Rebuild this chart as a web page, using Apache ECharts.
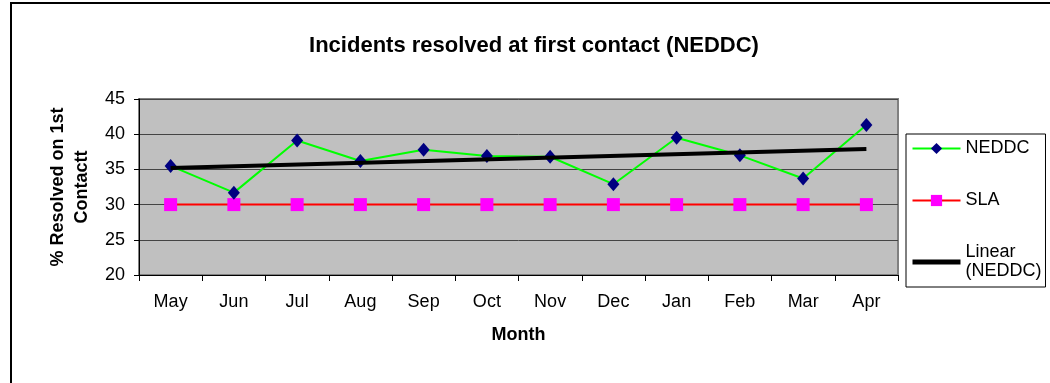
<!DOCTYPE html>
<html>
<head>
<meta charset="utf-8">
<script src="https://cdn.jsdelivr.net/npm/echarts@6/dist/echarts.min.js"></script>
<style>
html,body{margin:0;padding:0;background:#fff;}
#chart{width:1050px;height:383px;}
</style>
</head>
<body>
<div id="chart"></div>
<script>
const months = ['May','Jun','Jul','Aug','Sep','Oct','Nov','Dec','Jan','Feb','Mar','Apr'];
const neddc = [35.5, 31.7, 39.1, 36.2, 37.8, 36.9, 36.8, 32.9, 39.5, 37.0, 33.7, 41.3];
const sla = [30, 30, 30, 30, 30, 30, 30, 30, 30, 30, 30, 30];
const trendStart = 35.2;
const trendEnd = 37.9;
const yTicks = [20, 25, 30, 35, 40, 45];

const trend = months.map((m, i) => i === 0 ? trendStart : (i === months.length - 1 ? trendEnd : null));

const FONT = 'Liberation Sans, Arial, sans-serif';
const chart = echarts.init(document.getElementById('chart'), null, {renderer: 'canvas'});
chart.setOption({
  animation: false,
  backgroundColor: '#fff',
  textStyle: {fontFamily: FONT, color: '#000'},
  graphic: [{
    type: 'rect', shape: {x: 11, y: 3, width: 1100, height: 500},
    style: {fill: 'none', stroke: '#000', lineWidth: 2}, silent: true, z: -1
  }],
  title: {
    text: 'Incidents resolved at first contact (NEDDC)',
    left: 529, top: 30, textAlign: 'center',
    textStyle: {fontFamily: FONT, fontSize: 22, fontWeight: 'bold', color: '#000'}
  },
  grid: {
    left: 139, top: 99, right: 152, bottom: 108,
    show: true, backgroundColor: '#C0C0C0', borderColor: '#808080', borderWidth: 2
  },
  legend: {
    orient: 'vertical', left: 906, top: 134,
    padding: [5, 4, 6, 4],
    itemGap: 33, itemWidth: 48, itemHeight: 14,
    borderColor: '#000', borderWidth: 1, backgroundColor: '#fff',
    textStyle: {fontFamily: FONT, fontSize: 18, color: '#000', lineHeight: 19},
    formatter: n => n === 'Linear (NEDDC)' ? 'Linear\n(NEDDC)' : n,
    data: ['NEDDC', 'SLA', {name: 'Linear (NEDDC)', itemStyle: {opacity: 0}, lineStyle: {width: 5}}]
  },
  xAxis: {
    type: 'category', data: months, boundaryGap: true,
    name: 'Month', nameLocation: 'middle', nameGap: 51,
    nameTextStyle: {fontFamily: FONT, fontSize: 18, fontWeight: 'bold', color: '#000'},
    axisLine: {show: true, lineStyle: {color: '#000', width: 1}},
    axisTick: {show: true, alignWithLabel: false, length: 6, lineStyle: {color: '#000'}},
    axisLabel: {fontFamily: FONT, fontSize: 18, color: '#000', margin: 18},
    splitLine: {show: false}
  },
  yAxis: {
    type: 'value', min: 20, max: 45, interval: 5,
    name: '% Resolved on 1st\nContactt', nameLocation: 'middle', nameGap: 42, nameRotate: 90,
    nameTextStyle: {fontFamily: FONT, fontSize: 18, fontWeight: 'bold', color: '#000', lineHeight: 24},
    axisLine: {show: true, lineStyle: {color: '#000', width: 1}},
    axisTick: {show: true, length: 5, lineStyle: {color: '#000'}},
    axisLabel: {fontFamily: FONT, fontSize: 18, color: '#000', margin: 14,
      formatter: v => yTicks.includes(v) ? String(v) : ''},
    splitLine: {show: true, lineStyle: {color: '#444', width: 1}}
  },
  series: [
    {
      name: 'NEDDC', type: 'line', data: neddc,
      symbol: 'diamond', symbolSize: [12, 14], showAllSymbol: true,
      lineStyle: {color: '#00FF00', width: 2},
      itemStyle: {color: '#000080', borderColor: '#000080', borderWidth: 0},
      z: 3
    },
    {
      name: 'SLA', type: 'line', data: sla,
      symbol: 'rect', symbolSize: 13, showAllSymbol: true,
      lineStyle: {color: '#FF0000', width: 2},
      itemStyle: {color: '#FF00FF', borderWidth: 0},
      z: 2
    },
    {
      name: 'Linear (NEDDC)', type: 'line', data: trend, connectNulls: true,
      symbol: 'none', showSymbol: false,
      lineStyle: {color: '#000', width: 4},
      itemStyle: {color: '#000'},
      z: 4
    }
  ]
});
</script>
</body>
</html>
